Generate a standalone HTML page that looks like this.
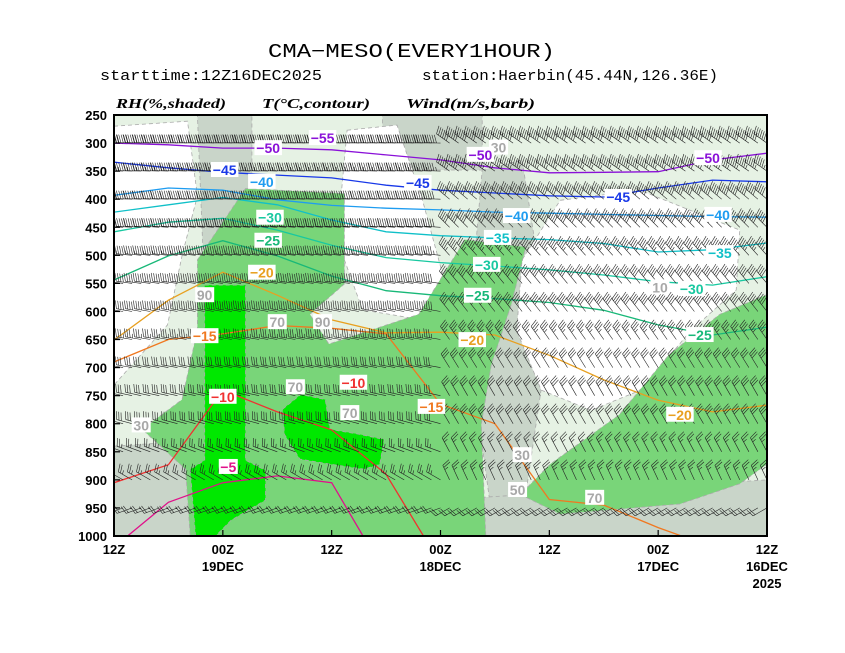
<!DOCTYPE html>
<html><head><meta charset="utf-8"><style>
html,body{margin:0;padding:0;background:#fff;width:845px;height:653px;overflow:hidden}
svg{display:block}
.t{font-family:"Liberation Mono",monospace}
.ax{font-family:"Liberation Sans",sans-serif;font-weight:bold;font-size:13px}
.hd{font-family:"Liberation Serif",serif;font-weight:bold;font-style:italic;font-size:14px}
.cl{font-family:"Liberation Sans",sans-serif;font-weight:bold;font-size:14px}
</style></head><body>
<svg id="chart" width="845" height="653" viewBox="0 0 845 653">
<text class="t" x="268" y="57" font-size="19" textLength="287" lengthAdjust="spacingAndGlyphs">CMA−MESO(EVERY1HOUR)</text>
<text class="t" x="100" y="80" font-size="15" textLength="222" lengthAdjust="spacingAndGlyphs">starttime:12Z16DEC2025</text>
<text class="t" x="422" y="80" font-size="15" textLength="296" lengthAdjust="spacingAndGlyphs">station:Haerbin(45.44N,126.36E)</text>
<text class="hd" x="116" y="108" textLength="110" lengthAdjust="spacingAndGlyphs">RH(%,shaded)</text>
<text class="hd" x="262" y="108" textLength="108" lengthAdjust="spacingAndGlyphs">T(°C,contour)</text>
<text class="hd" x="406" y="108" textLength="129" lengthAdjust="spacingAndGlyphs">Wind(m/s,barb)</text>
<defs><clipPath id="pc"><rect x="114" y="115" width="653" height="421"/></clipPath></defs>
<g id="plot" clip-path="url(#pc)">
<rect x="114" y="115" width="653" height="421" fill="#e6f2e4"/>
<g id="shade"></g>
<g id="iso"></g>
<g id="barbs"></g>
<g id="labels"></g>
</g>
<rect x="114" y="115" width="653" height="421" fill="none" stroke="#000" stroke-width="2"/>
<g id="axes"></g>
</svg>
<script>
// ---- axis data ----
const levels = [250,300,350,400,450,500,550,600,650,700,750,800,850,900,950,1000];
const xTickHours = [72,60,48,36,24,12,0];
const xTickLabel1 = ["12Z","00Z","12Z","00Z","12Z","00Z","12Z"];
const xTickLabel2 = ["","19DEC","","18DEC","","17DEC","16DEC"];
const xTickLabel3 = ["","","","","","","2025"];
// isotherm data: pressure (hPa) at hours 0,6,...,72
const isoHours = [0,6,12,18,24,30,36,42,48,54,60,66,72];
const isoValues = [-50,-45,-40,-35,-30,-25,-20,-15,-10,-5];
const isoM50 = [318,330,351,352,353,344,330,321,312,309,309,303,300];
const isoM45 = [369,366,380,396,394,389,384,375,362,357,352,344,334];
const isoM40 = [432,431,429,427,425,423,419,416,411,401,384,380,393];
const isoM35 = [478,490,494,479,472,469,465,458,437,410,397,410,423];
const isoM30 = [538,553,547,535,526,519,513,504,482,455,434,441,458];
const isoM25 = [628,642,624,598,584,577,572,563,537,501,474,501,544];
const isoM20 = [767,779,758,722,678,642,637,638,615,571,530,580,651];
const isoM15 = [1050,1020,985,945,935,800,765,640,630,625,640,650,690];
const isoM10 = [1060,1060,1060,1060,1060,1060,1050,890,811,779,740,873,905];
const isoM5 = [1080,1080,1080,1080,1080,1080,1080,1070,905,893,905,940,1020];
const isoColors = ["#8a10d8","#1838e8","#1e9cf0","#10c0c8","#18c8a0","#18b878","#e8a020","#f07820","#f03030","#e0108a"];
const labT = [55,31.6,6.5, 59.8,38.5,16.4, 55.7,27.6,5.4, 29.7,5.2, 54.8,30.9,8.3, 55,31.9,7.4, 55.7,32.5,9.6, 62,37, 60,45.6, 59.4, 49];
const labP = [309,321,327, 348,371,396, 369,430,428, 469,496, 433,517,560, 474,572,642, 531,651,784, 644,770, 752,727, 877, 291];
const labV = [-50,-50,-50, -45,-45,-45, -40,-40,-40, -35,-35, -30,-30,-30, -25,-25,-25, -20,-20,-20, -15,-15, -10,-10, -5, -55];
// RH labels
const rhT = [62,54,49,52,46,27,27.5,19,11.8,29.6,69];
const rhP = [571,619,619,735,781,856,918,932,557,308,803];
const rhV = [90,70,90,70,70,30,50,70,10,30,30];
// wind: speed (m/s) per level, direction (deg, from) for early(t<36) and late(t>=36) periods
const windSpeed = [24,24,22,20,20,18,16,16,14,12,12,12,10,10,8,6];
const dirEarly = [305,305,305,310,315,318,320,322,325,328,330,330,332,335,240,230];
const dirLate = [272,272,272,272,274,276,278,280,280,280,282,285,290,300,250,245];
// RH shaded polygons in (hour, hPa) pairs
const whiteAreas = [
 [[72,270],[63.9,261],[62.8,394],[64.5,501],[66.1,624],[72,731]],
 [[46.3,277],[40.8,268],[38,401],[35.3,561],[38,615],[44.6,597],[47.4,472]],
 [[22.8,402],[14,384],[3,455],[3.4,562],[8.4,634],[13.9,740],[19.4,776],[24.9,740],[27.6,634],[27,508]]
];
const greyAreas = [
 [[62.8,250],[56.8,250],[56.8,490],[62.2,490]],
 [[42.4,250],[31.4,250],[31.4,348],[42.4,348]],
 [[31.4,348],[27,330],[24,640],[27,970],[30.3,970],[33,650]],
 [[35.3,935],[0,900],[0,1000],[35.3,1000]],
 [[72,840],[63,830],[60,1000],[72,1000]],
 [[53.2,634],[49.4,624],[48.3,787],[51.6,803],[53.2,740]]
];
const greenAreas = [
 [[57.5,381],[46.6,390],[46.6,551],[50.4,605],[48.3,658],[38.4,605],[33.3,472],[26.6,485],[28.2,588],[30.4,695],[31.5,801],[31,1000],[63.6,1000],[64.1,881],[68.9,810],[64.5,757],[62.8,633],[62.8,508],[60.6,455]],
 [[0,570],[0,872],[3,907],[9.6,943],[22.8,961],[27.2,926],[23.9,872],[16.3,784],[10.8,677],[5.2,605]]
];
const brightAreas = [
 [[62,553],[57.5,553],[57.5,865],[55.3,883],[55.3,936],[59.1,972],[60.8,1000],[63,1000],[63.6,881],[62,865]],
 [[53.4,774],[51.4,748],[48.7,757],[48.2,810],[44.9,819],[42.2,828],[42.7,872],[44.4,881],[48.2,872],[51.5,863],[53.2,819]]
];
</script>
<script>
const X0=114,X1=767,Y0=115,Y1=536;
const xs = h => X1 - h*(X1-X0)/72;
const ys = p => Y0 + (p-250)*(Y1-Y0)/750;
const NS='http://www.w3.org/2000/svg';
function mk(tag, attrs, parent){const e=document.createElementNS(NS,tag);for(const k in attrs)e.setAttribute(k,attrs[k]);parent.appendChild(e);return e;}
const shade=document.getElementById('shade');
function poly(arr, fill, name){
  const pts=arr.map(q=>xs(q[0]).toFixed(1)+','+ys(q[1]).toFixed(1)).join(' ');
  const e=mk('polygon',{points:pts,fill:fill,stroke:'#aaa','stroke-width':0.8,'stroke-dasharray':'4 3'},shade);
  
  
}
greyAreas.forEach(a=>poly(a,'#c9d5c9','rh-grey-region'));
whiteAreas.forEach(a=>poly(a,'#ffffff','rh-dry-region'));
greenAreas.forEach(a=>poly(a,'#79d579','rh-moist-region'));
brightAreas.forEach(a=>poly(a,'#00e800','rh-saturated-region'));
// isotherms
const isoG=document.getElementById('iso');
const isoSeries=[isoM50,isoM45,isoM40,isoM35,isoM30,isoM25,isoM20,isoM15,isoM10,isoM5];
isoSeries.forEach((s,i)=>{
  let d='';
  s.forEach((p,j)=>{const x=xs(isoHours[j]),y=ys(p);d+=(j?'L':'M')+x.toFixed(1)+','+y.toFixed(1);});
  const e=mk('path',{d:d,fill:'none',stroke:isoColors[i],'stroke-width':1.3},isoG);
  
  
});
// wind barbs
const bg=document.getElementById('barbs');
let bd='';
levels.forEach((lv,i)=>{
  for(let h=0;h<=72;h++){
    const x=xs(h),y=ys(lv);
    const dir=(h<36?dirEarly[i]:dirLate[i])*Math.PI/180;
    const ux=Math.sin(dir),uy=-Math.cos(dir);
    const L=16;
    const tx=x+ux*L,ty=y+uy*L;
    bd+='M'+x.toFixed(1)+','+y.toFixed(1)+'L'+tx.toFixed(1)+','+ty.toFixed(1);
    const fx=-uy,fy=ux;
    let sp=windSpeed[i];let pos=0;
    while(sp>=4){
      const ax=tx-ux*pos,ay=ty-uy*pos;
      bd+='M'+ax.toFixed(1)+','+ay.toFixed(1)+'L'+(ax+fx*8+ux*2.5).toFixed(1)+','+(ay+fy*8+uy*2.5).toFixed(1);
      pos+=2.4;sp-=4;
    }
    if(sp>=2){
      const ax=tx-ux*pos,ay=ty-uy*pos;
      bd+='M'+ax.toFixed(1)+','+ay.toFixed(1)+'L'+(ax+fx*4+ux).toFixed(1)+','+(ay+fy*4+uy).toFixed(1);
    }
  }
});
const bp=mk('path',{d:bd,fill:'none',stroke:'#222','stroke-width':0.6},bg);


// labels
const lg=document.getElementById('labels');
function lab(h,p,txt,color,name){
  const x=xs(h),y=ys(p);
  const w=txt.length*8.5+2;
  const r=mk('rect',{x:x-w/2,y:y-8,width:w,height:15,fill:'#fff'},lg);
  
  
  const t=mk('text',{x:x,y:y+5,'text-anchor':'middle',fill:color,class:'cl'},lg);
  t.textContent=txt;
  
  
}
rhT.forEach((h,i)=>lab(h,rhP[i],String(rhV[i]),'#a8a8a8','rh-label'));
labT.forEach((h,i)=>{
  const idx=isoValues.indexOf(labV[i]);
  lab(h,labP[i],'−'+Math.abs(labV[i]),idx>=0?isoColors[idx]:'#8a10d8','isotherm-label');
});
// axes
const ax=document.getElementById('axes');
levels.forEach(lv=>{
  const y=ys(lv);
  const tk=mk('line',{x1:X0,x2:X0+6,y1:y,y2:y,stroke:'#000','stroke-width':1.2},ax);
  
  
  const t=mk('text',{x:X0-7,y:y+5,'text-anchor':'end',class:'ax'},ax);
  t.textContent=lv;
  
  
});
xTickHours.forEach((h,i)=>{
  const x=xs(h);
  const tk=mk('line',{x1:x,x2:x,y1:Y1,y2:Y1-6,stroke:'#000','stroke-width':1.2},ax);
  
  
  [xTickLabel1[i],xTickLabel2[i],xTickLabel3[i]].forEach((s,k)=>{
    if(!s)return;
    const t=mk('text',{x:x,y:554+k*17,'text-anchor':'middle',class:'ax'},ax);
    t.textContent=s;
    
    
  });
});
</script>
</body></html>
